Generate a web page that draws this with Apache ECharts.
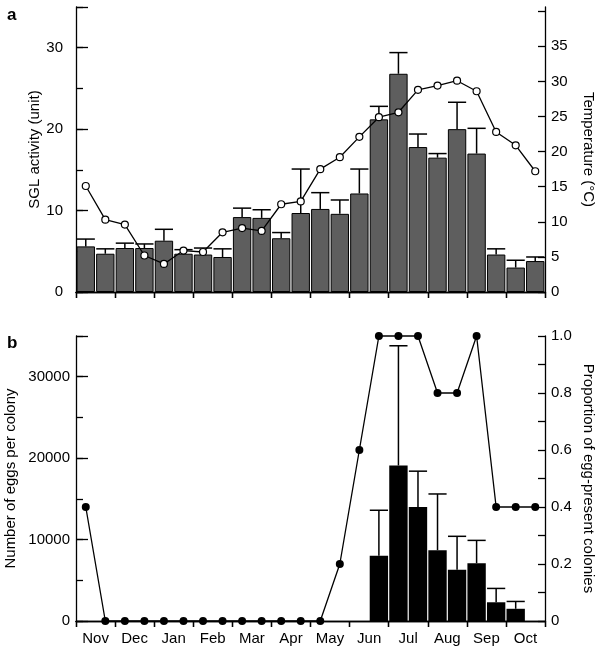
<!DOCTYPE html>
<html><head><meta charset="utf-8">
<script src="https://cdn.jsdelivr.net/npm/echarts@6/dist/echarts.min.js"></script>
<style>html,body{margin:0;padding:0;background:#fff}#c{width:600px;height:649px}</style>
</head><body><div id="c"></div>
<script>
// ---- data ----
const months = ['Nov','Dec','Jan','Feb','Mar','Apr','May','Jun','Jul','Aug','Sep','Oct'];
const halfMonths = months.flatMap(m => [m + ' 1', m + ' 2']);
const sglActivity = [5.6,4.7,5.4,5.4,6.3,4.7,4.6,4.3,9.2,9.1,6.6,9.7,10.2,9.6,12.1,21.2,26.8,17.8,16.5,20.0,17.0,4.6,3.0,3.8];
const sglErrorTop = [6.5,5.3,6.0,5.9,7.7,5.2,5.4,5.3,10.3,10.1,7.3,15.1,12.2,11.3,15.1,22.8,29.4,19.4,17.0,23.3,20.1,5.3,3.9,4.3];
const temperature = [15.1,10.3,9.6,5.2,4.0,5.9,5.7,8.5,9.1,8.7,12.5,12.9,17.5,19.2,22.1,24.9,25.6,28.8,29.4,30.1,28.6,22.8,20.9,17.2];
const eggsPerColony = [0,0,0,0,0,0,0,0,0,0,0,0,0,0,0,8000,19100,14000,8700,6300,7100,2300,1500,0];
const eggsErrorTop = [null,null,null,null,null,null,null,null,null,null,null,null,null,null,null,13600,33800,18400,15600,10400,9900,4000,2400,null];
const proportion = [0.4,0,0,0,0,0,0,0,0,0,0,0,0,0.2,0.6,1,1,1,0.8,0.8,1,0.4,0.4,0.4];
const sglTickLabels = [0,10,20,30];
const tempTickLabels = [0,5,10,15,20,25,30,35];
const eggTickLabels = [0,10000,20000,30000];
const propTickLabels = [0,0.2,0.4,0.6,0.8,1.0];

// ---- styling ----
const FONT = "'Liberation Sans', Arial, Helvetica, sans-serif";
const AXW = 1.3;
const lbl = {color:'#000', fontSize:15, fontFamily:FONT};
const axLine = {show:true, lineStyle:{color:'#000', width:AXW}};
const nameStyle = {color:'#000', fontSize:15, fontFamily:FONT};

function errRender(params, api){
  const i = api.value(0), hi = api.value(1), lo = api.value(2);
  const t = api.coord([i, hi]), b = api.coord([i, lo]);
  const w = api.size([1,0])[0]*0.93;
  const style = {stroke:'#000', lineWidth:1.5, fill:null};
  return {type:'group', children:[
    {type:'line', shape:{x1:t[0], y1:b[1], x2:t[0], y2:t[1]}, style},
    {type:'line', shape:{x1:t[0]-w/2, y1:t[1], x2:t[0]+w/2, y2:t[1]}, style}
  ]};
}
const inList = (list) => (v) => list.some(x => Math.abs(x - v) < 1e-9);

function xAxesFor(grid, showLabels){
  return [
    {gridIndex:grid, type:'category', data:halfMonths, show:false, boundaryGap:true},
    {gridIndex:grid, type:'category', data:months, position:'bottom', boundaryGap:true,
      axisLine:axLine, axisTick:{show:true, inside:false, length:6, lineStyle:{color:'#000', width:AXW}},
      axisLabel:Object.assign({show:showLabels, margin:10, interval:0}, lbl), splitLine:{show:false}},
    {gridIndex:grid, type:'category', data:months, position:'top', boundaryGap:true,
      axisLine:axLine, axisTick:{show:true, inside:true, length:6, lineStyle:{color:'#000', width:AXW}},
      axisLabel:{show:false}, splitLine:{show:false}}
  ];
}
const xAxis = xAxesFor(0, false).concat(xAxesFor(1, true));

const yAxis = [
  {gridIndex:0, type:'value', position:'left', min:0, max:35, interval:5,
    name:'SGL activity (unit)', nameLocation:'middle', nameGap:34, nameRotate:90, nameMoveOverlap:false,
    nameTextStyle:nameStyle,
    axisLine:axLine, axisTick:{show:true, inside:true, length:7, lineStyle:{color:'#000', width:AXW}},
    axisLabel:Object.assign({margin:13, formatter:v => inList(sglTickLabels)(v) ? String(v) : ''}, lbl),
    splitLine:{show:false}},
  {gridIndex:0, type:'value', position:'left', min:0, max:35, interval:10,
    axisLine:{show:false}, axisTick:{show:true, inside:true, length:12, lineStyle:{color:'#000', width:AXW}},
    axisLabel:{show:false}, splitLine:{show:false}},
  {gridIndex:0, type:'value', position:'right', min:0, max:40.6, interval:5,
    name:'Temperature (°C)', nameLocation:'middle', nameGap:36, nameRotate:-90, nameMoveOverlap:false,
    nameTextStyle:nameStyle,
    axisLine:axLine, axisTick:{show:true, inside:true, length:7, lineStyle:{color:'#000', width:AXW}},
    axisLabel:Object.assign({margin:6, showMaxLabel:false, formatter:v => inList(tempTickLabels)(v) ? String(v) : ''}, lbl),
    splitLine:{show:false}},
  {gridIndex:1, type:'value', position:'left', min:0, max:35000, interval:5000,
    name:'Number of eggs per colony', nameLocation:'middle', nameGap:58, nameRotate:90, nameMoveOverlap:false,
    nameTextStyle:nameStyle,
    axisLine:axLine, axisTick:{show:true, inside:true, length:7, lineStyle:{color:'#000', width:AXW}},
    axisLabel:Object.assign({margin:6, formatter:v => inList(eggTickLabels)(v) ? String(v) : ''}, lbl),
    splitLine:{show:false}},
  {gridIndex:1, type:'value', position:'left', min:0, max:35000, interval:10000,
    axisLine:{show:false}, axisTick:{show:true, inside:true, length:12, lineStyle:{color:'#000', width:AXW}},
    axisLabel:{show:false}, splitLine:{show:false}},
  {gridIndex:1, type:'value', position:'right', min:0, max:1, interval:0.1,
    name:'Proportion of egg-present colonies', nameLocation:'middle', nameGap:36, nameRotate:-90, nameMoveOverlap:false,
    nameTextStyle:nameStyle,
    axisLine:axLine, axisTick:{show:true, inside:true, length:7, lineStyle:{color:'#000', width:AXW}},
    axisLabel:Object.assign({margin:6, formatter:v => inList(propTickLabels)(v) ? (v === 0 ? '0' : v.toFixed(1)) : ''}, lbl),
    splitLine:{show:false}}
];

const series = [
  {type:'bar', xAxisIndex:0, yAxisIndex:0, data:sglActivity, barCategoryGap:'6%',
    itemStyle:{color:'#5e5e5e', borderColor:'#000', borderWidth:1}, z:2, silent:true},
  {type:'custom', xAxisIndex:0, yAxisIndex:0, renderItem:errRender, z:3, silent:true,
    data:sglErrorTop.map((e,i) => [i, e, sglActivity[i]])},
  {type:'line', xAxisIndex:0, yAxisIndex:2, data:temperature, symbol:'circle', symbolSize:7,
    lineStyle:{color:'#000', width:1.3}, itemStyle:{color:'#fff', borderColor:'#000', borderWidth:1.2},
    z:4, clip:false, silent:true},
  {type:'bar', xAxisIndex:3, yAxisIndex:3, data:eggsPerColony, barCategoryGap:'6%',
    itemStyle:{color:'#000'}, z:2, silent:true},
  {type:'custom', xAxisIndex:3, yAxisIndex:3, renderItem:errRender, z:3, silent:true,
    data:eggsErrorTop.map((e,i) => [i, e, eggsPerColony[i]]).filter(d => d[1] != null)},
  {type:'line', xAxisIndex:3, yAxisIndex:5, data:proportion, symbol:'circle', symbolSize:8,
    lineStyle:{color:'#000', width:1.3}, itemStyle:{color:'#000'}, z:4, clip:false, silent:true}
];

const chart = echarts.init(document.getElementById('c'), null, {renderer:'canvas'});
chart.setOption({
  animation:false,
  backgroundColor:'#fff',
  grid:[
    {left:76, right:55, top:7, height:285, containLabel:false, outerBoundsMode:'none'},
    {left:76, right:55, top:336, height:285, containLabel:false, outerBoundsMode:'none'}
  ],
  xAxis, yAxis, series,
  graphic:[
    {type:'text', left:7, top:7, style:{text:'a', font:"bold 17px " + FONT, fill:'#000'}},
    {type:'text', left:7, top:335, style:{text:'b', font:"bold 17px " + FONT, fill:'#000'}}
  ]
});
</script></body></html>
